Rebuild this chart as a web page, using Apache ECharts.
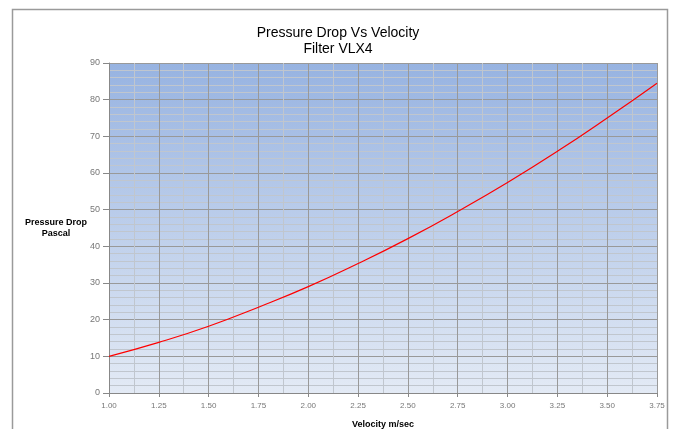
<!DOCTYPE html>
<html><head><meta charset="utf-8">
<script src="https://cdn.jsdelivr.net/npm/echarts@6/dist/echarts.min.js"></script>
<style>html,body{margin:0;padding:0;background:#fff}#c{width:676px;height:429px}</style>
</head><body><div id="c"></div>
<script>
var velocity = [1.00, 1.25, 1.50, 1.75, 2.00, 2.25, 2.50, 2.75, 3.00, 3.25, 3.50, 3.75];
var pressure = [10.0, 13.8, 18.2, 23.4, 29.0, 35.3, 42.1, 49.5, 57.4, 65.9, 75.0, 84.5];
var titleLines = ['Pressure Drop Vs Velocity', 'Filter VLX4'];
var xName = 'Velocity m/sec';
var yName = 'Pressure Drop\nPascal';

var chart = echarts.init(document.getElementById('c'));
var data = velocity.map(function (v, i) { return [v, pressure[i]]; });
var font = 'Liberation Sans, Arial, sans-serif';
chart.setOption({
  animation: false,
  title: {
    text: titleLines.join('\n'), left: 'center', top: 20,
    textStyle: { fontFamily: font, fontSize: 14, fontWeight: 'normal', color: '#000', lineHeight: 16 }
  },
  graphic: [
    { type: 'rect', shape: { x: 12.5, y: 9.5, width: 655, height: 440 }, style: { fill: 'none', stroke: '#9a9a9a', lineWidth: 1.5 }, z: -10 },
    { type: 'text', left: 25, top: 217, style: { text: yName, fontFamily: font, fontSize: 9, fontWeight: 'bold', fill: '#000', lineHeight: 11, textAlign: 'center' } }
  ],
  grid: {
    left: 109, right: 19, top: 63, bottom: 36, show: true, borderWidth: 0,
    containLabel: false, outerBoundsMode: 'none',
    backgroundColor: new echarts.graphic.LinearGradient(0, 0, 0, 1, [
      { offset: 0, color: '#97b3e1' }, { offset: 1, color: '#e3eaf5' }
    ])
  },
  xAxis: {
    type: 'value', min: 1, max: 3.75, interval: 0.25,
    name: xName, nameLocation: 'middle', nameGap: 27,
    nameTextStyle: { fontFamily: font, fontSize: 9, fontWeight: 'bold', color: '#000' },
    axisLine: { show: true, lineStyle: { color: '#888', width: 1 } },
    axisTick: { show: true, length: 4, lineStyle: { color: '#888' } },
    axisLabel: { fontFamily: font, fontSize: 8, color: '#777', margin: 9, formatter: function (v) { return v.toFixed(2); } },
    splitLine: { show: true, lineStyle: { color: '#999', width: 1 } },
    minorTick: { show: false, splitNumber: 2 },
    minorSplitLine: { show: true, lineStyle: { color: '#c0c6ce', width: 1 } }
  },
  yAxis: {
    type: 'value', min: 0, max: 90, interval: 10,
    axisLine: { show: true, lineStyle: { color: '#888', width: 1 } },
    axisTick: { show: true, length: 6, lineStyle: { color: '#888' } },
    axisLabel: { fontFamily: font, fontSize: 9, color: '#777', margin: 9 },
    splitLine: { show: true, lineStyle: { color: '#999', width: 1 } },
    minorTick: { show: false, splitNumber: 5 },
    minorSplitLine: { show: true, lineStyle: { color: '#c0c6ce', width: 1 } }
  },
  series: [{
    type: 'line', data: data, smooth: true, showSymbol: false,
    lineStyle: { color: '#ff0000', width: 1.2 }
  }]
});
</script></body></html>
